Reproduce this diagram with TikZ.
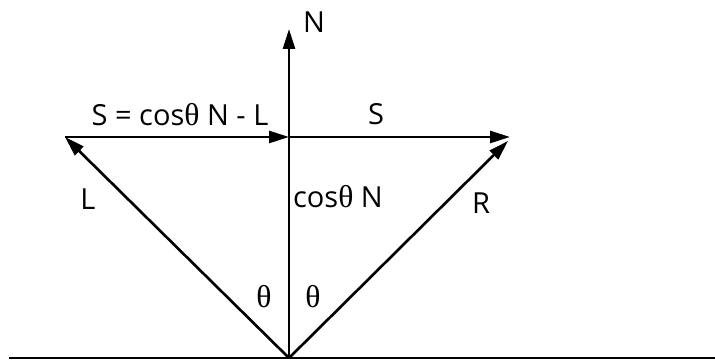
\documentclass[tikz,border=0pt]{standalone}
\usepackage{fontspec}
\setmainfont{Open Sans}
\newfontfamily\thetafont{Liberation Serif}
\usetikzlibrary{arrows.meta}
\newcommand{\thet}{{\thetafont\fontsize{18}{20}\selectfont θ}}
\tikzset{
    vec/.style={line width=1.5pt, -{Triangle[length=0.4cm, width=0.24cm]}},
    lbl/.style={draw=none, rectangle, inner sep=0pt, font=\fontsize{16.5}{19}\selectfont}
}
\begin{document}
\begin{tikzpicture}
    \useasboundingbox (0,0) rectangle (14.3,7.2);
    % Ground and points
    \coordinate (O) at (5.78, 0.04);
    \coordinate (gl) at (0.18, 0.04);
    \coordinate (gr) at (14.3, 0.04);
    \coordinate (Ntip) at (5.78, 6.62);
    \coordinate (M) at (5.78, 4.46);
    \coordinate (Ltip) at (1.30, 4.46);
    \coordinate (Stip) at (10.20, 4.46);
    \coordinate (Rtip) at (10.16, 4.38);
    \draw[line width=1.5pt] (gl) -- (gr);

    % Vectors
    \draw[vec] (O) -- (Ntip);
    \draw[vec] (O) -- (Ltip);
    \draw[vec] (O) -- (Rtip);
    \draw[vec] (Ltip) -- (M);
    \draw[vec] (M) -- (Stip);

    % Labels
    \node[lbl] (nlab) at (6.28, 6.76) {N};
    \node[lbl] (slab) at (3.60, 4.90) {S = cos\thet{} N - L};
    \node[lbl] (s2lab) at (7.52, 4.92) {S};
    \node[lbl] (cnlab) at (6.76, 3.26) {cos\thet{} N};
    \node[lbl] (rlab) at (9.62, 3.14) {R};
    \node[lbl] (llab) at (1.76, 3.22) {L};
    \node[lbl] (t1lab) at (5.28, 1.26) {\thet};
    \node[lbl] (t2lab) at (6.26, 1.26) {\thet};
\end{tikzpicture}
\end{document}
